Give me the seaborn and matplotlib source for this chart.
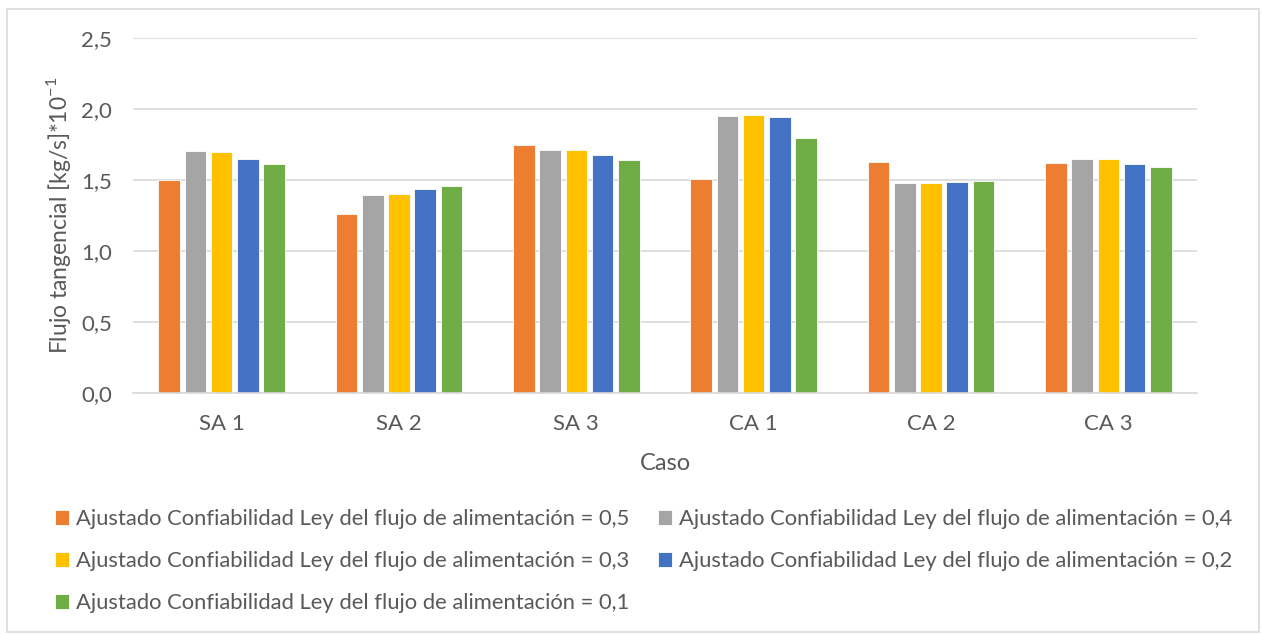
import pandas as pd
import matplotlib
matplotlib.use("Agg")
import matplotlib.pyplot as plt
import seaborn as sns

# values
casos = ["SA 1", "SA 2", "SA 3", "CA 1", "CA 2", "CA 3"]
series = ["Ajustado Confiabilidad Ley del flujo de alimentación = 0,5",
          "Ajustado Confiabilidad Ley del flujo de alimentación = 0,4",
          "Ajustado Confiabilidad Ley del flujo de alimentación = 0,3",
          "Ajustado Confiabilidad Ley del flujo de alimentación = 0,2",
          "Ajustado Confiabilidad Ley del flujo de alimentación = 0,1"]
conf_05 = [1.50, 1.26, 1.75, 1.505, 1.627, 1.620]
conf_04 = [1.702, 1.392, 1.709, 1.948, 1.477, 1.646]
conf_03 = [1.700, 1.399, 1.714, 1.958, 1.477, 1.646]
conf_02 = [1.646, 1.434, 1.676, 1.946, 1.486, 1.615]
conf_01 = [1.613, 1.456, 1.641, 1.798, 1.493, 1.589]
colores = ["#ED7D31", "#A5A5A5", "#FFC000", "#4472C4", "#70AD47"]
yticks = [0.0, 0.5, 1.0, 1.5, 2.0, 2.5]

rows = []
for s, vals in zip(series, [conf_05, conf_04, conf_03, conf_02, conf_01]):
    for c, v in zip(casos, vals):
        rows.append({"Caso": c, "Serie": s, "Flujo": v})
df = pd.DataFrame(rows)

sns.set_theme(style="white")
plt.rcParams["font.family"] = ["Lato", "DejaVu Sans"]
plt.rcParams["mathtext.fontset"] = "custom"
plt.rcParams["mathtext.rm"] = "Lato"
txt = "#595959"

fig = plt.figure(figsize=(12.62, 6.35), dpi=100)
ax = fig.add_axes([133 / 1262, 1 - 393 / 635, (1197 - 133) / 1262, (393 - 38) / 635])

sns.barplot(data=df, x="Caso", y="Flujo", hue="Serie", order=casos, hue_order=series,
            palette=colores, saturation=1, width=0.74, gap=0.18, ax=ax, legend=True,
            edgecolor="white", linewidth=0.6)

ax.set_ylim(0, 2.5)
ax.set_yticks(yticks)
ax.set_yticklabels([f"{t:.1f}".replace(".", ",") for t in yticks])
ax.yaxis.grid(True, color="#d9d9d9", linewidth=1.2)
ax.set_axisbelow(True)
for side in ["top", "right", "left"]:
    ax.spines[side].set_visible(False)
ax.spines["bottom"].set_color("#d9d9d9")
ax.spines["bottom"].set_linewidth(1.2)
ax.tick_params(axis="both", length=0, labelsize=16, colors=txt)
ax.tick_params(axis="y", pad=15)
ax.tick_params(axis="x", pad=15)

ax.set_ylabel(r"Flujo tangencial [kg/s]*10$^{\mathregular{-1}}$", fontsize=16.5, color=txt, labelpad=6)
ax.set_xlabel("Caso", fontsize=17, color=txt, labelpad=14)

# legend row-wise like Excel: reorder for matplotlib's column filling
handles, labels = ax.get_legend_handles_labels()
ax.get_legend().remove()
idx = [0, 2, 4, 1, 3]
fig.legend([handles[i] for i in idx], [labels[i] for i in idx], ncol=2,
           loc="upper left", bbox_to_anchor=(55 / 1262, 1 - 509 / 635),
           frameon=False, fontsize=15.8, labelcolor=txt, handlelength=0.65,
           handleheight=0.65, handletextpad=0.3, columnspacing=1.3,
           labelspacing=1.0, borderpad=0, borderaxespad=0)

# outer chart border
fig.patches.append(plt.Rectangle((7 / 1262, 3 / 635), 1252 / 1262, 623 / 635,
                                 transform=fig.transFigure, fill=False,
                                 edgecolor="#d9d9d9", linewidth=1.2))

fig.savefig("out.png", dpi=100, facecolor="white")
